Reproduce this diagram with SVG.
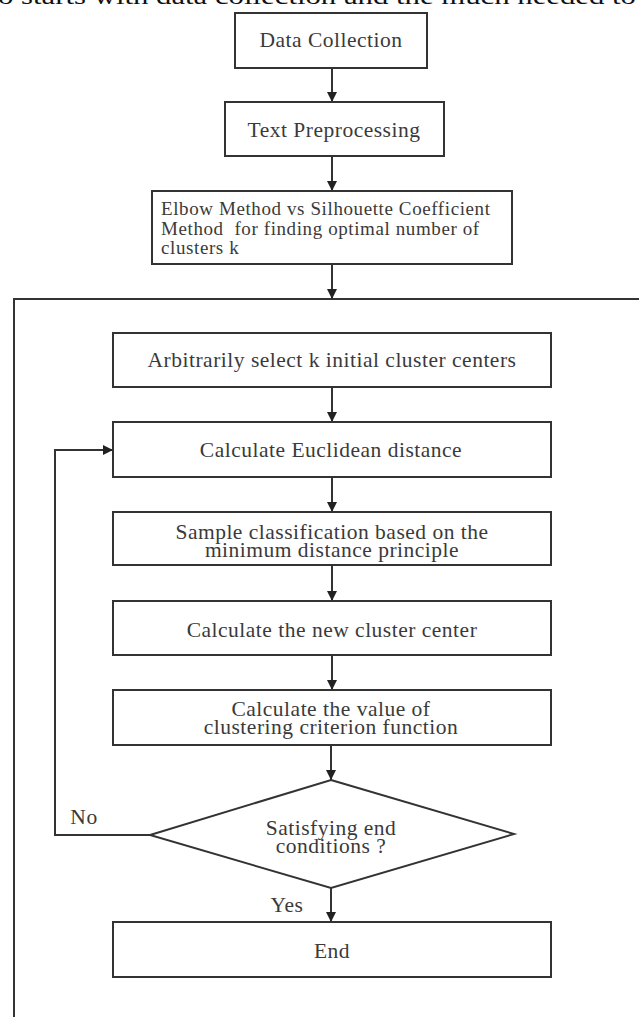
<svg xmlns="http://www.w3.org/2000/svg" width="639" height="1017" viewBox="0 0 639 1017">
<defs>
<style>
.box{fill:#fff;stroke:#333;stroke-width:2}
.ln{fill:none;stroke:#333;stroke-width:2}
.t{font-family:"Liberation Serif","Times New Roman",serif;font-size:21.5px;letter-spacing:0.5px;fill:#3a3a3a;text-anchor:middle}
.ts{font-family:"Liberation Serif","Times New Roman",serif;font-size:19px;letter-spacing:0.6px;fill:#3a3a3a}
.top{font-family:"Liberation Serif","Times New Roman",serif;font-size:24px;fill:#111}
</style>
<marker id="ah" viewBox="0 0 10 10" refX="10" refY="5" markerWidth="10" markerHeight="10" markerUnits="userSpaceOnUse" orient="auto">
<path d="M0,0 L10,5 L0,10 Z" fill="#222"/>
</marker>
</defs>
<rect width="639" height="1017" fill="#fff"/>
<text class="top" x="-2" y="4" textLength="638" lengthAdjust="spacingAndGlyphs">o starts with data collection and the much needed to</text>

<g id="connectors">
<path class="ln" d="M14,1017 V299 H639"/>
<line class="ln" x1="332" y1="68" x2="332" y2="102" marker-end="url(#ah)"/>
<line class="ln" x1="332" y1="156" x2="332" y2="191" marker-end="url(#ah)"/>
<line class="ln" x1="332" y1="264" x2="332" y2="299" marker-end="url(#ah)"/>
<line class="ln" x1="332" y1="387" x2="332" y2="422" marker-end="url(#ah)"/>
<line class="ln" x1="332" y1="477" x2="332" y2="512" marker-end="url(#ah)"/>
<line class="ln" x1="332" y1="565" x2="332" y2="601" marker-end="url(#ah)"/>
<line class="ln" x1="332" y1="655" x2="332" y2="690" marker-end="url(#ah)"/>
<line class="ln" x1="331" y1="745" x2="331" y2="780" marker-end="url(#ah)"/>
<line class="ln" x1="331" y1="888" x2="331" y2="922" marker-end="url(#ah)"/>
<path class="ln" d="M150,835 H55 V450 H113" marker-end="url(#ah)"/>
<text class="t" x="84" y="824">No</text>
<text class="t" x="287" y="912">Yes</text>
</g>

<g id="n-data-collection">
<rect class="box" x="235" y="13" width="192" height="55"/>
<text class="t" x="331" y="47">Data Collection</text>
</g>
<g id="n-text-preprocessing">
<rect class="box" x="225" y="102" width="219" height="54"/>
<text class="t" x="334" y="137">Text Preprocessing</text>
</g>
<g id="n-elbow">
<rect class="box" x="152" y="191" width="360" height="73"/>
<text class="ts" x="161" y="215" xml:space="preserve">Elbow Method vs Silhouette Coefficient</text>
<text class="ts" x="161" y="234.5" xml:space="preserve">Method  for finding optimal number of</text>
<text class="ts" x="161" y="254" xml:space="preserve">clusters k</text>
</g>
<g id="n-select">
<rect class="box" x="113" y="333" width="438" height="54"/>
<text class="t" x="332" y="367">Arbitrarily select k initial cluster centers</text>
</g>
<g id="n-euclid">
<rect class="box" x="113" y="422" width="438" height="55"/>
<text class="t" x="331" y="457">Calculate Euclidean distance</text>
</g>
<g id="n-sample">
<rect class="box" x="113" y="512" width="438" height="53"/>
<text class="t" x="332" y="539">Sample classification based on the</text>
<text class="t" x="332" y="556.5">minimum distance principle</text>
</g>
<g id="n-new-center">
<rect class="box" x="113" y="601" width="438" height="54"/>
<text class="t" x="332" y="637">Calculate the new cluster center</text>
</g>
<g id="n-criterion">
<rect class="box" x="113" y="690" width="438" height="55"/>
<text class="t" x="331" y="715.5">Calculate the value of</text>
<text class="t" x="331" y="733.5">clustering criterion function</text>
</g>
<g id="n-decision">
<polygon class="box" points="331,780 514,834 331,888 150,835"/>
<text class="t" x="331" y="835">Satisfying end</text>
<text class="t" x="331" y="853">conditions ?</text>
</g>
<g id="n-end">
<rect class="box" x="113" y="922" width="438" height="55"/>
<text class="t" x="332" y="958">End</text>
</g>
</svg>
